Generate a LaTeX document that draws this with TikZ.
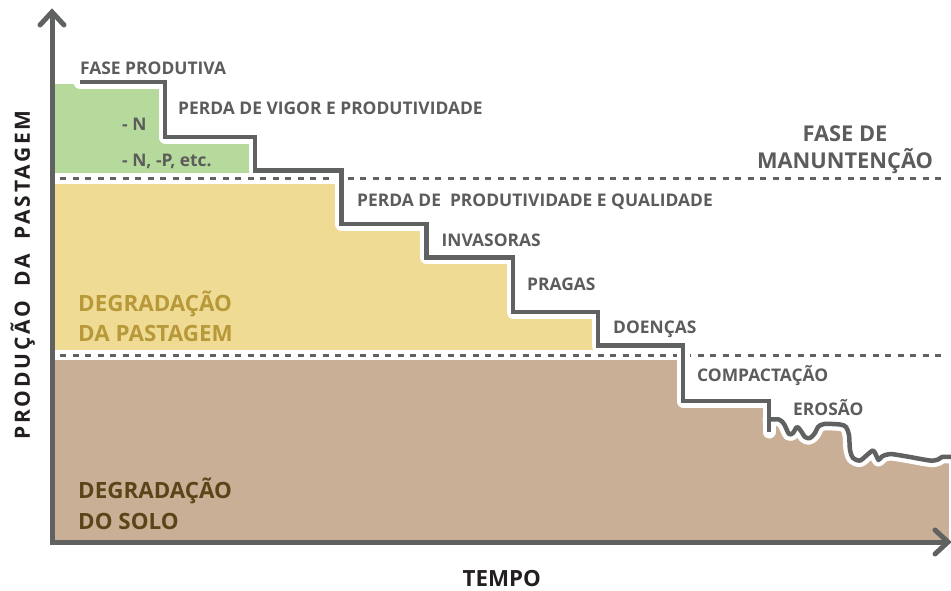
\documentclass[tikz,border=0pt]{standalone}
\usepackage{fontspec}
\setmainfont{Open Sans}
\newfontfamily\spacedfont{Open Sans}[LetterSpace=13]
\definecolor{grn}{HTML}{B6D99C}
\definecolor{ylw}{HTML}{F0DB95}
\definecolor{brn}{HTML}{C9AF95}
\definecolor{axisgray}{HTML}{606161}
\definecolor{txtgray}{HTML}{5C5C5C}
\definecolor{ytxt}{HTML}{B8993A}
\definecolor{btxt}{HTML}{5A4519}
\definecolor{blk}{HTML}{231F20}
\begin{document}
\begin{tikzpicture}[x=1pt,y=-1pt,
  lbl/.style={text=txtgray, font=\fontsize{17.4}{20}\selectfont\bfseries, inner sep=0pt, anchor=base west},
  bigl/.style={font=\fontsize{22.4}{28}\selectfont\bfseries, inner sep=0pt, anchor=base west},
  stair/.style={draw=axisgray, line width=4.5pt, line join=miter},
  halo/.style={draw=white, line width=13pt, line cap=round, line join=round},
  sep/.style={draw=axisgray, line width=2.5pt, dash pattern=on 6pt off 6.5pt},
  axisline/.style={draw=axisgray, line width=5pt, line join=miter},
  tipline/.style={draw=axisgray, line width=5pt, line cap=round, line join=miter}]
\useasboundingbox (0,0) rectangle (951,590);
% fills
\begin{scope}
\clip (55,82) -- (165,82) -- (165,137) -- (255,137) -- (255,170.5) -- (341.7,170.5) -- (341.7,224) -- (426.7,224) -- (426.7,257.5) -- (513,257.5) -- (513,312) -- (598,312) -- (598,345.5) -- (683,345.5) -- (683,401) -- (769,401) -- (769,419.5)
 -- plot[smooth,tension=0.5] coordinates {(769,419.5) (779,419.5) (784,424) (789,434) (793,433) (797,427) (801,431) (805,437) (810,438) (815,433) (818,427) (824,424) (840,424.5) (846,427) (849,435) (850,450) (853,458) (860,460.5) (867,455) (873,450.5) (876,455) (878.5,460) (882,456.5) (890,454) (907,456.5) (930,460.5) (938,459.5) (942,457) (951,457)}
 -- (951,541) -- (55,541) -- cycle;
\fill[grn] (55,84) rectangle (951,173);
\fill[ylw] (55,183.5) rectangle (951,350);
\fill[brn] (55,360) rectangle (949,541);
\end{scope}
% separators
\coordinate (d1a) at (60,178.5); \coordinate (d1b) at (945,178.5);
\coordinate (d2a) at (60,355.5); \coordinate (d2b) at (945,355.5);
\draw[sep] (d1a) -- (d1b);
\draw[sep] (d2a) -- (d2b);
% halo
\draw[halo] (80,82) -- (165,82) -- (165,137) -- (255,137) -- (255,170.5) -- (341.7,170.5) -- (341.7,224) -- (426.7,224) -- (426.7,257.5) -- (513,257.5) -- (513,312) -- (598,312) -- (598,345.5) -- (683,345.5) -- (683,401) -- (769,401) -- (769,432);
\draw[halo] plot[smooth,tension=0.5] coordinates {(769,419.5) (779,419.5) (784,424) (789,434) (793,433) (797,427) (801,431) (805,437) (810,438) (815,433) (818,427) (824,424) (840,424.5) (846,427) (849,435) (850,450) (853,458) (860,460.5) (867,455) (873,450.5) (876,455) (878.5,460) (882,456.5) (890,454) (907,456.5) (930,460.5) (938,459.5) (942,457) (951,457)};
% stair line
\draw[stair] (80,82) -- (165,82) -- (165,137) -- (255,137) -- (255,170.5) -- (341.7,170.5) -- (341.7,224) -- (426.7,224) -- (426.7,257.5) -- (513,257.5) -- (513,312) -- (598,312) -- (598,345.5) -- (683,345.5) -- (683,401) -- (769,401) -- (769,432);
\draw[stair, line join=round] plot[smooth,tension=0.5] coordinates {(769,419.5) (779,419.5) (784,424) (789,434) (793,433) (797,427) (801,431) (805,437) (810,438) (815,433) (818,427) (824,424) (840,424.5) (846,427) (849,435) (850,450) (853,458) (860,460.5) (867,455) (873,450.5) (876,455) (878.5,460) (882,456.5) (890,454) (907,456.5) (930,460.5) (938,459.5) (942,457) (951,457)};
% axes
\coordinate (O) at (52,542);
\coordinate (Ytop) at (52,12);
\coordinate (Xend) at (948,542);
\draw[axisline] (Ytop) -- (O) -- (Xend);
\draw[tipline] (40,25) -- (Ytop) -- (64,25);
\draw[tipline] (935,530) -- (Xend) -- (935,554);
% labels
\node[lbl] (t1) at (80,74) {FASE PRODUTIVA};
\node[lbl] (t2) at (178,114) {PERDA DE VIGOR E PRODUTIVIDADE};
\node[lbl] (t3) at (122,130.5) {- N};
\node[lbl] (t4) at (122,166) {- N, -P, etc.};
\node[lbl] (t5) at (357,206.5) {PERDA DE~ PRODUTIVIDADE E QUALIDADE};
\node[lbl] (t6) at (441.5,246.5) {INVASORAS};
\node[lbl] (t7) at (527,290.5) {PRAGAS};
\node[lbl] (t8) at (613,333.3) {DOENÇAS};
\node[lbl] (t9) at (697,381.7) {COMPACTAÇÃO};
\node[lbl] (t10) at (793,415) {EROSÃO};
\node[bigl, text=txtgray, anchor=base, font=\fontsize{21.8}{28}\selectfont\bfseries] (t11) at (845,141) {FASE DE};
\node[bigl, text=txtgray, anchor=base, font=\fontsize{21.8}{28}\selectfont\bfseries] (t12) at (845,168) {MANUNTENÇÃO};
\node[bigl, text=ytxt] (t13) at (78,311.7) {DEGRADAÇÃO};
\node[bigl, text=ytxt] (t14) at (78,341.7) {DA PASTAGEM};
\node[bigl, text=btxt] (t15) at (78,498.3) {DEGRADAÇÃO};
\node[bigl, text=btxt] (t16) at (78,529.3) {DO SOLO};
\node[font=\fontsize{22.3}{24}\selectfont\bfseries, text=blk, anchor=base, inner sep=0pt] (t17) at (501.7,586) {TEMPO};
\node[font=\fontsize{21}{24}\selectfont\bfseries\spacedfont, text=blk, anchor=base, inner sep=0pt, rotate=90] (t18) at (30,275) {PRODUÇÃO\hspace{0.7em}DA\hspace{0.7em}PASTAGEM};
\end{tikzpicture}
\end{document}
